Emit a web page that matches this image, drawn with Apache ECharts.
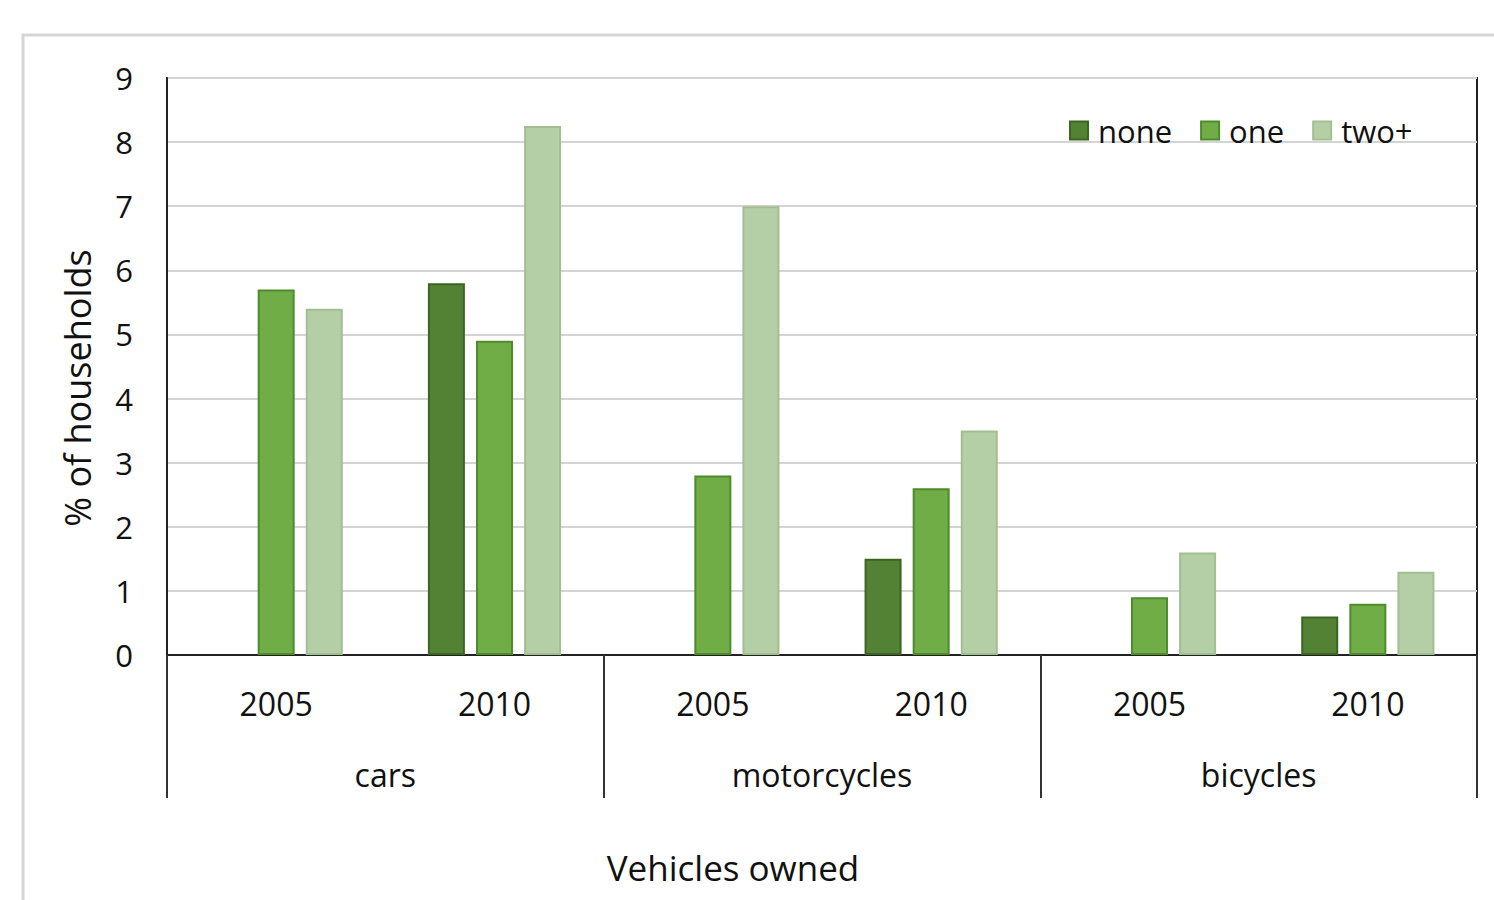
<!DOCTYPE html>
<html>
<head>
<meta charset="utf-8">
<script src="https://cdn.jsdelivr.net/npm/echarts@6/dist/echarts.min.js"></script>
<style>
html,body{margin:0;padding:0;background:#fff;}
#chart{width:1494px;height:900px;}
</style>
</head>
<body>
<div id="chart"></div>
<script>
// ---- data ----
var years = ['2005', '2010', '2005', '2010', '2005', '2010'];
var vehicleTypes = ['cars', 'motorcycles', 'bicycles'];
var seriesNames = ['none', 'one', 'two+'];
var noneValues = [null, 5.8, null, 1.5, null, 0.6];
var oneValues = [5.7, 4.9, 2.8, 2.6, 0.9, 0.8];
var twoPlusValues = [5.4, 8.25, 7.0, 3.5, 1.6, 1.3];
var yTicks = [0, 1, 2, 3, 4, 5, 6, 7, 8, 9];
var yTitle = '% of households';
var xTitle = 'Vehicles owned';

// ---- chart ----
var FONT = '"Open Sans"';
var chart = echarts.init(document.getElementById('chart'), null, {renderer: 'svg'});

function barSeries(name, data, fill, border) {
  return {
    name: name,
    type: 'bar',
    data: data,
    xAxisIndex: 0,
    barWidth: 37,
    barGap: '30%',
    itemStyle: {color: fill, borderColor: border, borderWidth: 2},
    emphasis: {disabled: true}
  };
}

var option = {
  backgroundColor: '#ffffff',
  animation: false,
  textStyle: {fontFamily: FONT},
  grid: {
    left: 167, right: 17, top: 78, bottom: 245,
    show: true, borderColor: '#222222', borderWidth: 2, backgroundColor: 'transparent'
  },
  legend: {
    data: seriesNames,
    left: 1069, top: 115, padding: 0,
    itemWidth: 18, itemHeight: 18, itemGap: 28,
    icon: 'rect',
    textStyle: {fontFamily: FONT, fontSize: 31, lineHeight: 30, color: '#111111', padding: [0, 0, 0, 5]},
    selectedMode: false
  },
  xAxis: [
    {
      type: 'category',
      data: years,
      position: 'bottom',
      axisLine: {show: true, lineStyle: {color: '#222222', width: 2}},
      axisTick: {show: false},
      axisLabel: {
        interval: 0, margin: 32, color: '#111111',
        fontFamily: FONT, fontSize: 32, lineHeight: 32
      },
      splitLine: {show: false}
    },
    {
      type: 'category',
      data: vehicleTypes,
      position: 'bottom',
      offset: 0,
      axisLine: {show: false},
      axisTick: {
        show: true, interval: 0, length: 143, inside: false,
        lineStyle: {color: '#333333', width: 2}
      },
      axisLabel: {
        interval: 0, margin: 103, color: '#111111',
        fontFamily: FONT, fontSize: 32, lineHeight: 32
      },
      splitLine: {show: false}
    }
  ],
  yAxis: {
    type: 'value',
    min: yTicks[0], max: yTicks[yTicks.length - 1], interval: 1,
    axisLine: {show: true, lineStyle: {color: '#222222', width: 2}},
    axisTick: {show: false},
    axisLabel: {margin: 34, color: '#111111', fontFamily: FONT, fontSize: 31},
    splitLine: {show: true, lineStyle: {color: '#d4d4d4', width: 2}}
  },
  graphic: [
    {
      type: 'rect', silent: true, z: -10,
      shape: {x: 23, y: 35, width: 1600, height: 1000},
      style: {fill: 'none', stroke: '#d6d6d6', lineWidth: 3}
    },
    {
      type: 'text', silent: true,
      x: 77, y: 388, rotation: Math.PI / 2,
      style: {
        text: yTitle, fontFamily: FONT, fontSize: 36, fill: '#111111',
        align: 'center', verticalAlign: 'middle'
      }
    },
    {
      type: 'text', silent: true,
      x: 733, y: 867,
      style: {
        text: xTitle, fontFamily: FONT, fontSize: 35, fill: '#111111',
        align: 'center', verticalAlign: 'middle'
      }
    }
  ],
  series: [
    barSeries(seriesNames[0], noneValues, '#548235', '#3b6520'),
    barSeries(seriesNames[1], oneValues, '#70ad47', '#4f8b2b'),
    barSeries(seriesNames[2], twoPlusValues, '#b4cfa5', '#a2bf92')
  ]
};
chart.setOption(option);
</script>
</body>
</html>
